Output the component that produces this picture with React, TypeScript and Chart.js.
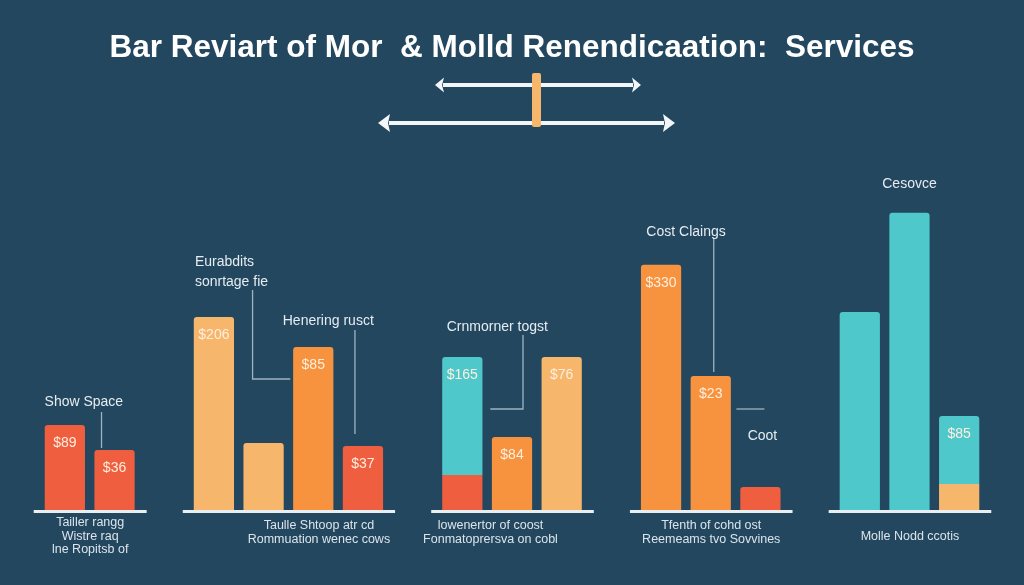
import React, { useEffect, useRef } from "react";
import { Chart, registerables } from "chart.js";

Chart.register(...registerables);

// ---------- data ----------
const TITLE = "Bar Reviart of Mor  & Molld Renendicaation:  Services";

// one slot per bar, empty slots separate the groups
const slots = [
  "Show 1", "Show 2", "",
  "Storage 1", "Storage 2", "Hosting 1", "Hosting 2", "",
  "Consumer 1", "Consumer 2", "Consumer 3", "",
  "Claims 1", "Claims 2", "Cost", "",
  "Service 1", "Service 2", "Service 3",
];

// lower (or only) segment of each bar
const baseValues = [
  85, 60, null,
  193, 67, 163, 64, null,
  35, 73, 153, null,
  245, 134, 23, null,
  198, 297, 26,
];

// upper segment (two-tone bars only)
const topValues = [
  null, null, null,
  null, null, null, null, null,
  118, null, null, null,
  null, null, null, null,
  null, null, 68,
];

const valueLabels = [
  "$89", "$36", "",
  "$206", "", "$85", "$37", "",
  "$165", "$84", "$76", "",
  "$330", "$23", "", "",
  "", "", "$85",
];

const groupLabels = [
  ["Tailler rangg", "Wistre raq", "lne Ropitsb of"],
  ["Taulle Shtoop atr cd", "Rommuation wenec cows"],
  ["lowenertor of coost", "Fonmatoprersva on cobl"],
  ["Tfenth of cohd ost", "Reemeams tvo Sovvines"],
  ["Molle Nodd ccotis"],
];

// ---------- styles ----------
const BG = "#22475F";
const RED = "#EF5E3E";
const LIGHT = "#F6B66C";
const ORANGE = "#F7923F";
const TEAL = "#4EC8CB";

const baseColors = [
  RED, RED, RED,
  LIGHT, LIGHT, ORANGE, RED, RED,
  RED, ORANGE, LIGHT, LIGHT,
  ORANGE, ORANGE, RED, RED,
  TEAL, TEAL, LIGHT,
];
const topColors = slots.map(() => TEAL);

const FONT = "'Liberation Sans', Arial, sans-serif";
const TEXT = "#E6ECF0";
const LINE = "#9FB4C2";

const decorPlugin = {
  id: "decor",
  beforeDraw(chart: any) {
    const { ctx, width, height } = chart;
    ctx.save();
    ctx.fillStyle = BG;
    ctx.fillRect(0, 0, width, height);
    ctx.restore();
  },
  afterDatasetsDraw(chart: any) {
    const ctx = chart.ctx;
    const xs = chart.scales.x;
    const ys = chart.scales.y;
    const m0 = chart.getDatasetMeta(0);
    const m1 = chart.getDatasetMeta(1);
    const X = (i: number) => xs.getPixelForValue(i);
    const halfW = (m0.data.find((e: any) => e && e.width)?.width || 40) / 2;
    const baseY = ys.getPixelForValue(0);

    // groups from gaps
    const groups: number[][] = [];
    let cur: number[] = [];
    baseValues.forEach((v, i) => {
      if (v === null) {
        if (cur.length) groups.push(cur);
        cur = [];
      } else cur.push(i);
    });
    if (cur.length) groups.push(cur);

    ctx.save();
    // baselines
    ctx.fillStyle = "#E9EEF2";
    groups.forEach((g) => {
      const l = X(g[0]) - halfW - 11;
      const r = X(g[g.length - 1]) + halfW + 12;
      ctx.fillRect(l, baseY, r - l, 3);
    });

    // value labels inside bars
    ctx.fillStyle = "#FFEEDD";
    ctx.font = `14px ${FONT}`;
    ctx.textAlign = "center";
    ctx.textBaseline = "middle";
    valueLabels.forEach((t, i) => {
      if (!t) return;
      const top = topValues[i] !== null ? m1.data[i].y : m0.data[i].y;
      ctx.fillText(t, X(i), top + 18);
    });

    // group labels
    const gdx = [0, 30, -22, 0, 0];
    ctx.fillStyle = "#DCE4EA";
    ctx.font = `12.5px ${FONT}`;
    groups.forEach((g, gi) => {
      const l = X(g[0]) - halfW - 11;
      const r = X(g[g.length - 1]) + halfW + 12;
      const cx = (l + r) / 2 + gdx[gi];
      const lines = groupLabels[gi];
      const y0 = lines.length === 1 ? 537 : lines.length === 3 ? 523 : 526;
      lines.forEach((s, k) => ctx.fillText(s, cx, y0 + k * 13.3));
    });

    // leader lines
    const leaders: [number, number, number][][] = [
      [[1, -13, 412], [1, -13, 448]],
      [[4, -11, 290], [4, -11, 379], [5, -23, 379]],
      [[6, -8, 330], [6, -8, 434]],
      [[9, 11, 335], [9, 11, 409], [8, 28, 409]],
      [[13, 3, 238], [13, 3, 372]],
      [[14, -24, 409], [14, 4, 409]],
    ];
    ctx.strokeStyle = LINE;
    ctx.lineWidth = 1.3;
    leaders.forEach((pts) => {
      ctx.beginPath();
      pts.forEach(([i, dx, y], k) => {
        const px = X(i) + dx;
        if (k === 0) ctx.moveTo(px, y);
        else ctx.lineTo(px, y);
      });
      ctx.stroke();
    });

    // annotation texts
    const notes: { lines: string[]; i: number; dx: number; y: number; align: string }[] = [
      { lines: ["Show Space"], i: 0, dx: 19, y: 402, align: "center" },
      { lines: ["Eurabdits", "sonrtage fie"], i: 3, dx: -19, y: 262, align: "left" },
      { lines: ["Henering rusct"], i: 5, dx: 15, y: 321, align: "center" },
      { lines: ["Crnmorner togst"], i: 8, dx: 35, y: 327, align: "center" },
      { lines: ["Cost Claings"], i: 12, dx: 25, y: 232, align: "center" },
      { lines: ["Coot"], i: 14, dx: 2, y: 436, align: "center" },
      { lines: ["Cesovce"], i: 17, dx: 0, y: 184, align: "center" },
    ];
    ctx.fillStyle = TEXT;
    ctx.font = `14px ${FONT}`;
    notes.forEach((n) => {
      ctx.textAlign = n.align;
      n.lines.forEach((s, k) => ctx.fillText(s, X(n.i) + n.dx, n.y + k * 20));
    });
    ctx.restore();
  },
  afterDraw(chart: any) {
    const ctx = chart.ctx;
    ctx.save();
    const arrow = (x1: number, x2: number, y: number, hl: number, hh: number) => {
      ctx.strokeStyle = "#F3F6F8";
      ctx.fillStyle = "#F3F6F8";
      ctx.lineWidth = 4;
      ctx.beginPath();
      ctx.moveTo(x1 + hl - 1, y);
      ctx.lineTo(x2 - hl + 1, y);
      ctx.stroke();
      ctx.beginPath();
      ctx.moveTo(x1, y);
      ctx.lineTo(x1 + hl, y - hh);
      ctx.lineTo(x1 + hl - 2, y);
      ctx.lineTo(x1 + hl, y + hh);
      ctx.closePath();
      ctx.fill();
      ctx.beginPath();
      ctx.moveTo(x2, y);
      ctx.lineTo(x2 - hl, y - hh);
      ctx.lineTo(x2 - hl + 2, y);
      ctx.lineTo(x2 - hl, y + hh);
      ctx.closePath();
      ctx.fill();
    };
    arrow(435, 641, 85, 9, 7.5);
    arrow(378, 675, 123, 12, 9);
    ctx.fillStyle = LIGHT;
    ctx.beginPath();
    ctx.roundRect(532, 73, 9, 54, 2);
    ctx.fill();
    ctx.restore();
  },
};

export default function App() {
  const ref = useRef<HTMLCanvasElement | null>(null);
  useEffect(() => {
    if (!ref.current) return;
    const chart = new Chart(ref.current, {
      type: "bar",
      data: {
        labels: slots,
        datasets: [
          {
            data: baseValues,
            backgroundColor: baseColors,
            borderRadius: 3,
            categoryPercentage: 1,
            barPercentage: 0.81,
            stack: "s",
          },
          {
            data: topValues,
            backgroundColor: topColors,
            borderRadius: 3,
            categoryPercentage: 1,
            barPercentage: 0.81,
            stack: "s",
          },
        ] as any,
      },
      options: {
        responsive: false,
        animation: false,
        layout: { padding: { left: 40, right: 40, top: 0, bottom: 75 } },
        scales: {
          x: { display: false, stacked: true, grid: { display: false } },
          y: { display: false, stacked: true, min: 0, max: 350, grid: { display: false } },
        },
        plugins: {
          legend: { display: false },
          tooltip: { enabled: false },
          title: {
            display: true,
            text: TITLE,
            color: "#FFFFFF",
            font: { family: "'Liberation Sans', Arial, sans-serif", size: 31.5, weight: "bold" },
            padding: { top: 29, bottom: 93 },
          },
        },
      } as any,
      plugins: [decorPlugin],
    });
    return () => chart.destroy();
  }, []);
  return (
    <div style={{ position: "fixed", left: 0, top: 0, width: 1024, height: 585, background: BG }}>
      <canvas ref={ref} width={1024} height={585} style={{ display: "block" }} />
    </div>
  );
}
